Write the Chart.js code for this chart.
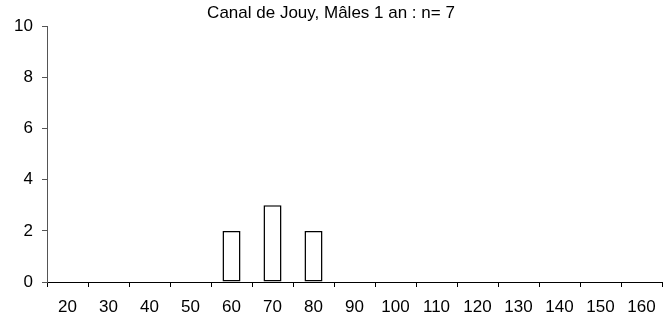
<!DOCTYPE html>
<html>
<head>
<meta charset="utf-8">
<script src="https://cdn.jsdelivr.net/npm/chart.js@4/dist/chart.umd.min.js"></script>
<style>
  html, body { margin:0; padding:0; background:#fff; }
  #wrap { width:672px; height:320px; }
</style>
</head>
<body>
<div id="wrap"><canvas id="chart"></canvas></div>
<script>
// longueurs (classes de 10 mm) et effectifs
const classes = ["20","30","40","50","60","70","80","90","100","110","120","130","140","150","160"];
const effectifs = [0,0,0,0,2,3,2,0,0,0,0,0,0,0,0];
const yTicks = [0,2,4,6,8,10];

const font = { family:"'Liberation Sans', Arial, sans-serif", size:17 };

new Chart(document.getElementById("chart"),{
  type:'bar',
  data:{
    labels: classes,
    datasets:[{
      data: effectifs,
      backgroundColor:'#fff',
      borderColor:'#000',
      borderWidth:1.5,
      borderSkipped:false,
      barPercentage:0.44,
      categoryPercentage:1
    }]
  },
  options:{
    responsive:true,
    maintainAspectRatio:false,
    animation:false,
    devicePixelRatio:1,
    layout:{ padding:{ left:0, right:10, top:0, bottom:0 } },
    plugins:{
      legend:{ display:false },
      tooltip:{ enabled:false },
      title:{
        display:true,
        text:"Canal de Jouy, Mâles 1 an : n= 7",
        color:'#000',
        font:{ family:font.family, size:17, weight:'normal' },
        padding:{ top:3, bottom:3 }
      }
    },
    scales:{
      x:{
        offset:true,
        grid:{
          offset:true,
          drawOnChartArea:false,
          drawTicks:true,
          tickLength:5,
          color:'#000'
        },
        border:{ display:true, color:'#000', width:1 },
        ticks:{ color:'#000', font:font, padding:10, maxRotation:0, autoSkip:false },
        afterFit: s => { s.height = 38; }
      },
      y:{
        min:0,
        max:10,
        afterBuildTicks: s => { s.ticks = yTicks.map(v => ({ value:v })); },
        grid:{
          drawOnChartArea:false,
          drawTicks:true,
          tickLength:5,
          color:'#555'
        },
        border:{ display:true, color:'#555', width:1 },
        ticks:{ color:'#000', font:font, padding:9 },
        afterFit: s => { s.width = 47; }
      }
    }
  }
});
</script>
</body>
</html>
